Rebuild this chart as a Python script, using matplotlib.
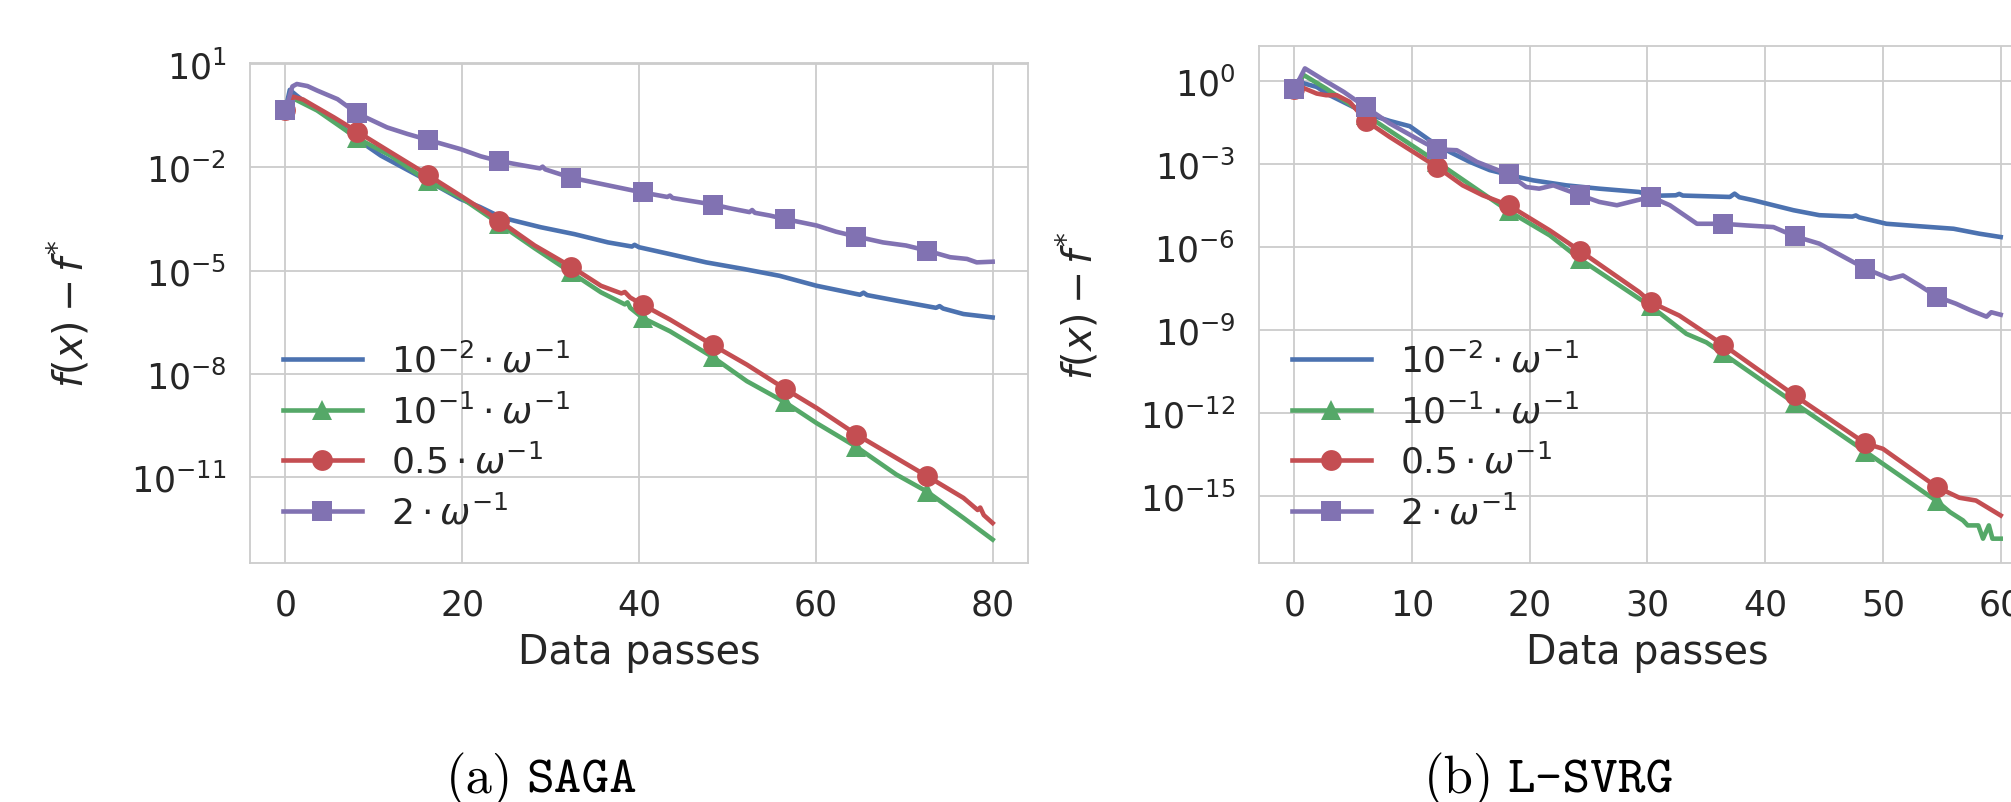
import numpy as np
import matplotlib
matplotlib.use('Agg')
import matplotlib.pyplot as plt

# colours (seaborn "deep", old flavour)
blue = '#4C72B0'
green = '#55A868'
red = '#C44E52'
purple = '#8172B2'
ink = '#262626'
light = '#cccccc'

labels = [r'$10^{-2}\cdot\omega^{-1}$', r'$10^{-1}\cdot\omega^{-1}$',
          r'$0.5\cdot\omega^{-1}$', r'$2\cdot\omega^{-1}$']

# ---- SAGA panel, values are log10(f(x) - f*) ----
saga_marks = [0, 8.1, 16.1, 24.2, 32.3, 40.4, 48.4, 56.5, 64.6, 72.6]

saga_blue_x = [0, 0.5, 1.2, 2.5, 5.5, 8.1, 10.8, 16.1, 19.8, 22.0, 24.4, 25.9, 28.9,
               32.7, 36.5, 39.2, 39.5, 40.0, 43.5, 47.6, 51.8, 55.9, 60.1, 65.0,
               65.4, 65.8, 69.1, 73.6, 74.0, 74.4, 76.7, 80.0]
saga_blue_y = [-0.335, 0.25, 0.1, -0.16, -0.62, -1.18, -1.66, -2.39, -2.92, -3.15,
               -3.45, -3.55, -3.74, -3.94, -4.18, -4.30, -4.25, -4.32, -4.52, -4.76,
               -4.95, -5.15, -5.44, -5.70, -5.64, -5.71, -5.87, -6.08, -6.03, -6.10,
               -6.26, -6.36]

saga_green_x = [0, 0.9, 3.6, 8.1, 11.9, 16.1, 19.8, 24.2, 28.2, 32.3, 35.7, 38.4,
                38.7, 39.0, 40.4, 43.5, 48.4, 52.2, 56.5, 60.1, 64.6, 69.1, 72.6,
                76.7, 80.0]
saga_green_y = [-0.335, 0.0, -0.35, -1.15, -1.66, -2.40, -2.87, -3.64, -4.35, -5.05,
                -5.63, -5.98, -5.92, -6.08, -6.37, -6.76, -7.52, -8.21, -8.82, -9.43,
                -10.12, -10.92, -11.42, -12.18, -12.81]

saga_red_x = [0, 0.9, 2.0, 3.2, 5.5, 8.1, 11.9, 16.1, 19.8, 24.2, 28.2, 32.3, 35.7,
              38.0, 38.4, 39.0, 40.4, 43.5, 48.4, 52.2, 56.5, 60.1, 64.6, 69.1, 72.6,
              76.7, 78.3, 78.6, 79.0, 80.0]
saga_red_y = [-0.335, 0.05, -0.03, -0.21, -0.55, -0.96, -1.56, -2.22, -2.82, -3.55,
              -4.27, -4.88, -5.44, -5.66, -5.62, -5.78, -5.99, -6.42, -7.17, -7.73,
              -8.43, -8.99, -9.76, -10.44, -10.97, -11.6, -11.95, -11.88, -12.1, -12.33]

saga_purple_x = [0, 0.8, 1.3, 2.5, 3.6, 5.9, 8.1, 11.5, 13.8, 16.1, 19.8, 22.1, 24.2,
                 27.0, 28.8, 29.1, 29.4, 32.3, 35.7, 40.4, 43.2, 43.5, 43.8, 45.7,
                 48.4, 50.3, 52.5, 52.8, 53.1, 54.8, 56.5, 60.1, 62.3, 64.6, 67.6,
                 70.2, 72.6, 75.2, 77.1, 78.2, 80.0]
saga_purple_y = [-0.335, 0.35, 0.42, 0.36, 0.23, -0.02, -0.43, -0.84, -1.03, -1.2,
                 -1.47, -1.68, -1.82, -1.95, -2.03, -1.98, -2.06, -2.3, -2.48, -2.73,
                 -2.86, -2.82, -2.89, -2.97, -3.08, -3.19, -3.30, -3.24, -3.32, -3.40,
                 -3.5, -3.69, -3.87, -4.01, -4.18, -4.27, -4.42, -4.61, -4.66, -4.76,
                 -4.74]

# ---- L-SVRG panel ----
svrg_marks = [0, 6.1, 12.1, 18.2, 24.3, 30.3, 36.4, 42.5, 48.5, 54.6]

svrg_blue_x = [0, 0.4, 0.8, 1.9, 3.0, 4.7, 6.1, 8.1, 9.8, 11.5, 13.2, 14.9, 16.6,
               18.9, 20.3, 23.1, 25.9, 29.3, 30.3, 32.4, 32.7, 33.0, 37.0, 37.4, 37.8,
               39.0, 42.4, 44.6, 47.4, 47.7, 48.0, 50.3, 53.1, 56.0, 58.2, 60.0]
svrg_blue_y = [-0.30, 0.04, -0.08, -0.21, -0.51, -0.87, -1.17, -1.44, -1.63, -2.14,
               -2.56, -2.92, -3.22, -3.46, -3.59, -3.77, -3.89, -4.01, -4.15, -4.13,
               -4.08, -4.14, -4.19, -4.07, -4.2, -4.31, -4.67, -4.85, -4.90, -4.86,
               -4.93, -5.16, -5.25, -5.34, -5.52, -5.64]

svrg_green_x = [0, 0.8, 2.7, 6.1, 10.4, 12.1, 14.6, 18.2, 21.7, 24.3, 27.4, 29.3,
                30.3, 33.3, 35.0, 36.4, 42.5, 48.5, 54.6, 55.7, 56.8, 57.2, 58.1,
                58.5, 59.0, 59.3, 60.0]
svrg_green_y = [-0.30, 0.22, -0.27, -1.23, -2.44, -2.92, -3.65, -4.70, -5.58, -6.45,
                -7.33, -7.87, -8.15, -9.14, -9.45, -9.85, -11.65, -13.40, -15.2,
                -15.59, -15.89, -16.07, -16.07, -16.55, -16.07, -16.55, -16.55]

svrg_red_x = [0, 0.5, 1.9, 2.7, 3.6, 4.7, 6.1, 8.1, 10.4, 12.1, 14.3, 16.0, 18.2,
              21.7, 24.3, 29.3, 30.3, 32.7, 36.4, 42.5, 48.5, 50.0, 54.6, 56.5, 57.9,
              60.0]
svrg_red_y = [-0.30, -0.2, -0.45, -0.51, -0.51, -0.75, -1.44, -2.02, -2.64, -3.1,
              -3.77, -4.13, -4.49, -5.4, -6.15, -7.63, -8.0, -8.48, -9.53, -11.37,
              -13.1, -13.3, -14.69, -15.07, -15.17, -15.71]

svrg_purple_x = [0, 0.9, 2.5, 4.2, 6.1, 8.1, 10.4, 12.1, 13.8, 15.5, 18.2, 19.7,
                 20.8, 22.0, 24.3, 25.9, 27.4, 29.1, 30.3, 31.9, 34.2, 36.4, 38.4,
                 40.7, 42.5, 44.6, 47.2, 48.5, 50.6, 51.7, 53.1, 54.6, 56.2, 57.4,
                 58.8, 59.2, 60.0]
svrg_purple_y = [-0.30, 0.46, 0.04, -0.39, -0.95, -1.53, -2.08, -2.47, -2.5, -2.92,
                 -3.37, -3.83, -3.89, -3.77, -4.13, -4.37, -4.49, -4.31, -4.19, -4.49,
                 -5.16, -5.16, -5.22, -5.28, -5.61, -5.88, -6.48, -6.78, -7.15, -7.03,
                 -7.39, -7.8, -8.05, -8.28, -8.52, -8.36, -8.45]

plt.rcParams.update({
    'font.family': 'DejaVu Sans',
    'mathtext.fontset': 'dejavusans',
    'text.color': ink,
    'axes.labelcolor': ink,
    'xtick.color': ink,
    'ytick.color': ink,
    'axes.edgecolor': light,
    'axes.linewidth': 1.3,
    'grid.color': light,
    'grid.linewidth': 1.3,
    'xtick.major.size': 0,
    'ytick.major.size': 0,
    'xtick.minor.size': 0,
    'ytick.minor.size': 0,
    'xtick.major.pad': 18,
    'ytick.major.pad': 17,
    'xtick.labelsize': 25,
    'ytick.labelsize': 25,
    'axes.labelsize': 28.5,
})

W, H = 2011, 803
fig = plt.figure(figsize=(W / 100, H / 100), dpi=100)


def box(x0, x1, ytop, ybot):
    return [x0 / W, 1 - ybot / H, (x1 - x0) / W, (ybot - ytop) / H]


def panel(ax, series, marks, xticks, yticks, ylim):
    styles = [(blue, None), (green, '^'), (red, 'o'), (purple, 's')]
    for (xs, ys), (col, mk), lab in zip(series, styles, labels):
        me = [i for i, v in enumerate(xs) if v in marks] if mk else None
        ax.plot(xs, 10.0 ** np.array(ys), color=col, lw=3.3, marker=mk,
                markevery=me, ms=15, mew=0, label=lab)
    ax.set_yscale('log')
    ax.set_yticks([10.0 ** k for k in yticks])
    ax.minorticks_off()
    ax.set_ylim(10.0 ** ylim[0], 10.0 ** ylim[1])
    ax.set_xticks(xticks)
    ax.set_xlim(-0.05 * xticks[-1], 1.05 * xticks[-1])
    ax.grid(True, which='major')
    ax.set_axisbelow(True)
    ax.set_xlabel('Data passes', labelpad=7)
    ax.set_ylabel(r'$f(x) - f^{*}$')
    ax.yaxis.set_label_coords(-0.203, 0.5)
    ax.legend(loc='lower left', frameon=False, fontsize=26, handlelength=2.2,
              labelspacing=0.4)


ax1 = fig.add_axes(box(250, 1028, 64, 564))
panel(ax1, [(saga_blue_x, saga_blue_y), (saga_green_x, saga_green_y),
            (saga_red_x, saga_red_y), (saga_purple_x, saga_purple_y)],
      saga_marks, [0, 20, 40, 60, 80], [1, -2, -5, -8, -11], (-13.49, 1.03))

ax2 = fig.add_axes(box(1259, 2036, 47, 564))
panel(ax2, [(svrg_blue_x, svrg_blue_y), (svrg_green_x, svrg_green_y),
            (svrg_red_x, svrg_red_y), (svrg_purple_x, svrg_purple_y)],
      svrg_marks, [0, 10, 20, 30, 40, 50, 60], [0, -3, -6, -9, -12, -15],
      (-17.43, 1.27))

# sub-figure captions
yb = 1 - 793 / H
fig.text(513 / W, yb, '(a)', ha='right', va='baseline', family='cmr10',
         fontsize=38, color='black')
fig.text(526 / W, yb, 'SAGA', ha='left', va='baseline', family='cmtt10',
         fontsize=38, color='black')
fig.text(1494 / W, yb, '(b)', ha='right', va='baseline', family='cmr10',
         fontsize=38, color='black')
fig.text(1507 / W, yb, 'L-SVRG', ha='left', va='baseline', family='cmtt10',
         fontsize=38, color='black')

fig.savefig('out.png', dpi=100, facecolor='white')
